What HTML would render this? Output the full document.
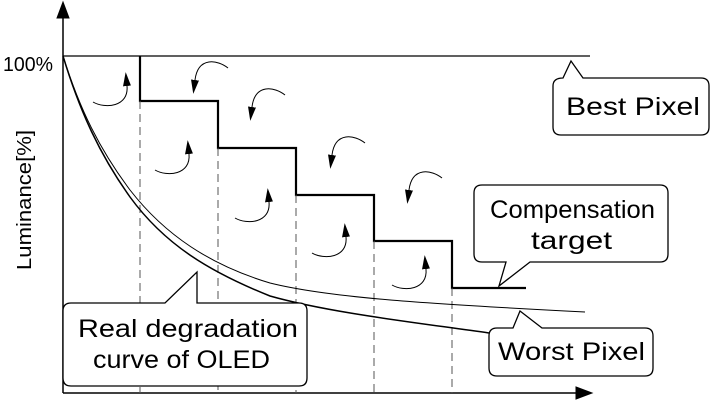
<!DOCTYPE html>
<html><head><style>body{margin:0;background:#fff}svg{display:block}text{font-family:"Liberation Sans",sans-serif;fill:#000}</style></head><body>
<svg width="711" height="401" viewBox="0 0 711 401">
<defs><marker id="ah" markerWidth="16" markerHeight="10" refX="0" refY="5" orient="auto" markerUnits="userSpaceOnUse"><path d="M0,1 L14,5 L0,9 z" fill="#000"/></marker></defs>
<g stroke="#000" fill="none">
<line x1="63" y1="393" x2="63" y2="14" stroke-width="1.5"/>
<path d="M57,18 L63,2 L69,18 z" fill="#000"/>
<line x1="63" y1="393" x2="578" y2="393" stroke-width="1.5"/>
<path d="M576,387 L592,393 L576,399 z" fill="#000"/>
<line x1="63" y1="56" x2="590" y2="56" stroke-width="1.2"/>
<path d="M140,56 V101 H218 V148 H296 V195 H374 V241 H452 V288 H526" stroke-width="2.2"/>
<g stroke="#555" stroke-dasharray="8,5" stroke-width="1">
<line x1="140" y1="101" x2="140" y2="393"/><line x1="218" y1="148" x2="218" y2="393"/><line x1="296" y1="195" x2="296" y2="393"/><line x1="374" y1="241" x2="374" y2="393"/><line x1="452" y1="288" x2="452" y2="393"/>
</g>
<path d="M63,56 C80,110 100,150 130,190 C165,235 210,265 270,283 C330,298 430,304 585,312" stroke-width="1"/>
<path d="M63,56 C80,112 100,155 130,197 C165,245 210,272 270,296 C330,313 420,323 489,333" stroke-width="1.5"/>
<g stroke-width="1" marker-end="url(#ah)">
<path transform="translate(93,102)" d="M0,0 C12,7 36,5 34,-16"/>
<path transform="translate(155,170)" d="M0,0 C12,7 36,5 34,-16"/>
<path transform="translate(235,218)" d="M0,0 C12,7 36,5 34,-16"/>
<path transform="translate(312,253)" d="M0,0 C12,7 36,5 34,-16"/>
<path transform="translate(392,285)" d="M0,0 C12,7 36,5 34,-16"/>
<path transform="translate(228,68)" d="M0,0 C-10,-8 -30,-12 -33,12"/>
<path transform="translate(285,95)" d="M0,0 C-10,-8 -30,-12 -33,12"/>
<path transform="translate(365,143)" d="M0,0 C-10,-8 -30,-12 -33,12"/>
<path transform="translate(442,178)" d="M0,0 C-10,-8 -30,-12 -33,12"/>
</g>
<g stroke-width="1.3" fill="#fff">
<path d="M563,78 L571,61 L583,78 H701 Q709,78 709,86 V127 Q709,135 701,135 H561 Q553,135 553,127 V86 Q553,78 563,78 Z"/>
<path d="M482,185 H660 Q668,185 668,193 V254 Q668,262 660,262 H530 L499,286 L506,262 H482 Q474,262 474,254 V193 Q474,185 482,185 Z"/>
<path d="M71,303 H165 L197,272 L197,303 H299 Q307,303 307,311 V378 Q307,386 299,386 H71 Q63,386 63,378 V311 Q63,303 71,303 Z"/>
<path d="M497,328 H513 L520,311 L542,328 H645 Q653,328 653,336 V368 Q653,376 645,376 H497 Q489,376 489,368 V336 Q489,328 497,328 Z"/>
</g>
</g>
<text x="3" y="71" font-size="20" textLength="50" lengthAdjust="spacingAndGlyphs">100%</text>
<text transform="translate(31,200) rotate(-90)" font-size="20" text-anchor="middle" textLength="140" lengthAdjust="spacingAndGlyphs">Luminance[%]</text>
<text x="566" y="115" font-size="25" textLength="134" lengthAdjust="spacingAndGlyphs">Best Pixel</text>
<text x="490" y="218" font-size="25" textLength="165" lengthAdjust="spacingAndGlyphs">Compensation</text>
<text x="531" y="249" font-size="25" textLength="81" lengthAdjust="spacingAndGlyphs">target</text>
<text x="78" y="337" font-size="25" textLength="220" lengthAdjust="spacingAndGlyphs">Real degradation</text>
<text x="93" y="368" font-size="25" textLength="177" lengthAdjust="spacingAndGlyphs">curve of OLED</text>
<text x="498" y="360" font-size="25" textLength="147" lengthAdjust="spacingAndGlyphs">Worst Pixel</text>
</svg>
</body></html>
